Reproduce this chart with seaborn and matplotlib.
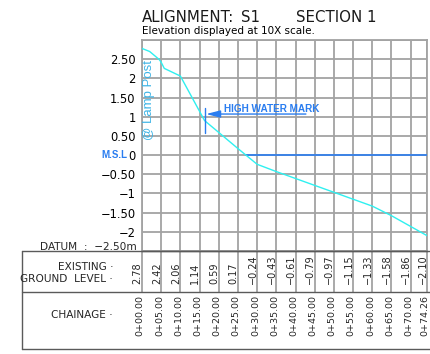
import numpy as np
import pandas as pd
import matplotlib
matplotlib.use("Agg")
import matplotlib.pyplot as plt
import matplotlib.transforms as mtransforms
from matplotlib.lines import Line2D
import seaborn as sns

# ---- survey data -------------------------------------------------------
# Chainage stations (m) and existing ground levels (m) listed in the table
chainage = [0, 5, 10, 15, 20, 25, 30, 35, 40, 45, 50, 55, 60, 65, 70, 74.26]
ground_level = [2.78, 2.42, 2.06, 1.14, 0.59, 0.17, -0.24, -0.43, -0.61,
                -0.79, -0.97, -1.15, -1.33, -1.58, -1.86, -2.10]
# Intermediate survey breakpoints between the stations
break_chainage = [2.0, 4.5, 5.8, 16.3]
break_level = [2.70, 2.49, 2.26, 0.90]

elevation_ticks = [3.0, 2.5, 2.0, 1.5, 1.0, 0.5, 0.0, -0.5, -1.0, -1.5, -2.0, -2.5]
datum_level = -2.50
msl_level = 0.0
hwm_chainage = 16.3
hwm_level = 1.07
hwm_extent = [0.57, 1.22]

# ---- styling -----------------------------------------------------------
W, H = 430, 354
GRID = "#a3a3a3"
TABLE = "#5a5a5a"
BLUE = "#2a7df0"
CYAN = "#2ff0f0"
LAMP = "#3db4e6"
CAD = ["Liberation Sans Narrow", "DejaVu Sans"]

sns.set_theme(style="white")
plt.rcParams["font.family"] = ["DejaVu Sans"]
plt.rcParams["axes.unicode_minus"] = True


def fx(px):
    return px / W


def fy(py):
    return 1 - py / H


def num(v):
    s = f"{v:.2f}"
    if s.endswith(".00"):
        s = s[:-3]
    return s.replace("-", "\u2212")


def level_text(v):
    return f"{v:.2f}".replace("-", "\u2212")


def chainage_text(c):
    return f"{int(c // 1000)}+{c % 1000:05.2f}"


fig = plt.figure(figsize=(W / 100, H / 100), dpi=100)
ax = fig.add_axes([fx(142), fy(251), fx(427) - fx(142), fy(40) - fy(251)])

# ground profile through stations and breakpoints
profile = pd.DataFrame({
    "chainage": chainage + break_chainage,
    "level": ground_level + break_level,
}).sort_values("chainage")
sns.lineplot(data=profile, x="chainage", y="level", ax=ax, color=CYAN,
             lw=1.0, zorder=4)

ax.set_xlim(chainage[0], chainage[-1])
ax.set_ylim(datum_level, elevation_ticks[0])

# grid
ax.set_xticks(chainage)
ax.set_xticklabels([])
ax.set_yticks(elevation_ticks)
ax.set_yticklabels(["" if (v == elevation_ticks[0] or v == datum_level) else num(v)
                    for v in elevation_ticks], fontsize=8.3, color="black")
ax.tick_params(axis="both", length=0, pad=4.5)
ax.grid(True, color=GRID, lw=1.3)
for side in ("left", "top", "right"):
    ax.spines[side].set_color(GRID)
    ax.spines[side].set_linewidth(1.3)
ax.spines["bottom"].set_color(TABLE)
ax.spines["bottom"].set_linewidth(1.0)
ax.set_xlabel("")
ax.set_ylabel("")

# mean sea level from where it meets the ground
x_msl = float(np.interp(msl_level, profile["level"].values[::-1],
                        profile["chainage"].values[::-1]))
ax.plot([x_msl, chainage[-1]], [msl_level, msl_level], color=BLUE, lw=1.2,
        zorder=3)
ax.annotate("M.S.L", xy=(0, msl_level), xycoords=("axes fraction", "data"),
            xytext=(-10.2, 0), textcoords="offset points", ha="right",
            va="center", color=BLUE, fontsize=7, fontweight="bold",
            family=["Liberation Sans", "DejaVu Sans"])

# high water mark
ax.plot([hwm_chainage, hwm_chainage], hwm_extent, color=BLUE, lw=1.0, zorder=5)
ax.annotate("", xy=(hwm_chainage + 0.4, hwm_level), xytext=(42.7, hwm_level),
            arrowprops=dict(arrowstyle="-|>,head_length=0.7,head_width=0.18",
                            color=BLUE, lw=1.0, shrinkA=0, shrinkB=0),
            zorder=5)
ax.text(21.3, 1.21, "HIGH WATER MARK", color=BLUE, fontsize=7.2,
        fontweight="bold", ha="left", va="center",
        family=["Liberation Sans", "DejaVu Sans"])

ax.text(1.8, 1.43, "@ Lamp Post", rotation=90, ha="center", va="center",
        color=LAMP, fontsize=9.5, family=["Liberation Sans", "DejaVu Sans"])

# titles
title_kw = dict(fontsize=10.8, va="baseline", color="#1a1a1a")
fig.text(fx(142), fy(21.5), "ALIGNMENT:", **title_kw)
fig.text(fx(241), fy(21.5), "S1", **title_kw)
fig.text(fx(296), fy(21.5), "SECTION", **title_kw)
fig.text(fx(366), fy(21.5), "1", **title_kw)
fig.text(fx(142), fy(34), "Elevation displayed at 10X scale.", fontsize=7.5,
         va="baseline", color="black")

# ---- table below the section ------------------------------------------
fig.text(fx(137), fy(249.5), f"DATUM  :  {level_text(datum_level)}m",
         ha="right", va="baseline", fontsize=7.6, family=CAD)

for y0 in (251, 292, 349):
    fig.add_artist(Line2D([fx(22), 1.0], [fy(y0), fy(y0)], color=TABLE,
                          lw=1.0, transform=fig.transFigure))
fig.add_artist(Line2D([fx(22), fx(22)], [fy(251), fy(349)], color=TABLE,
                      lw=1.0, transform=fig.transFigure))

blend = mtransforms.blended_transform_factory(ax.transData, fig.transFigure)
ax.vlines(chainage, fy(292), fy(251), transform=blend, color=GRID, lw=1.3,
          clip_on=False)

fig.text(fx(113), fy(270), "EXISTING \u00b7", ha="right", va="baseline",
         fontsize=7.6, family=CAD)
fig.text(fx(113), fy(282), "GROUND  LEVEL \u00b7", ha="right", va="baseline",
         fontsize=7.6, family=CAD)
fig.text(fx(113), fy(318), "CHAINAGE \u00b7", ha="right", va="baseline",
         fontsize=7.6, family=CAD)

for c, lv in zip(chainage, ground_level):
    ax.text(c - 1.15, fy(284), level_text(lv), transform=blend, rotation=90,
            ha="center", va="bottom", fontsize=7, clip_on=False)
    ax.text(c - 0.45, fy(295), chainage_text(c), transform=blend, rotation=90,
            ha="center", va="top", fontsize=6.8, clip_on=False)

fig.savefig("out.png", dpi=100, facecolor="white")
